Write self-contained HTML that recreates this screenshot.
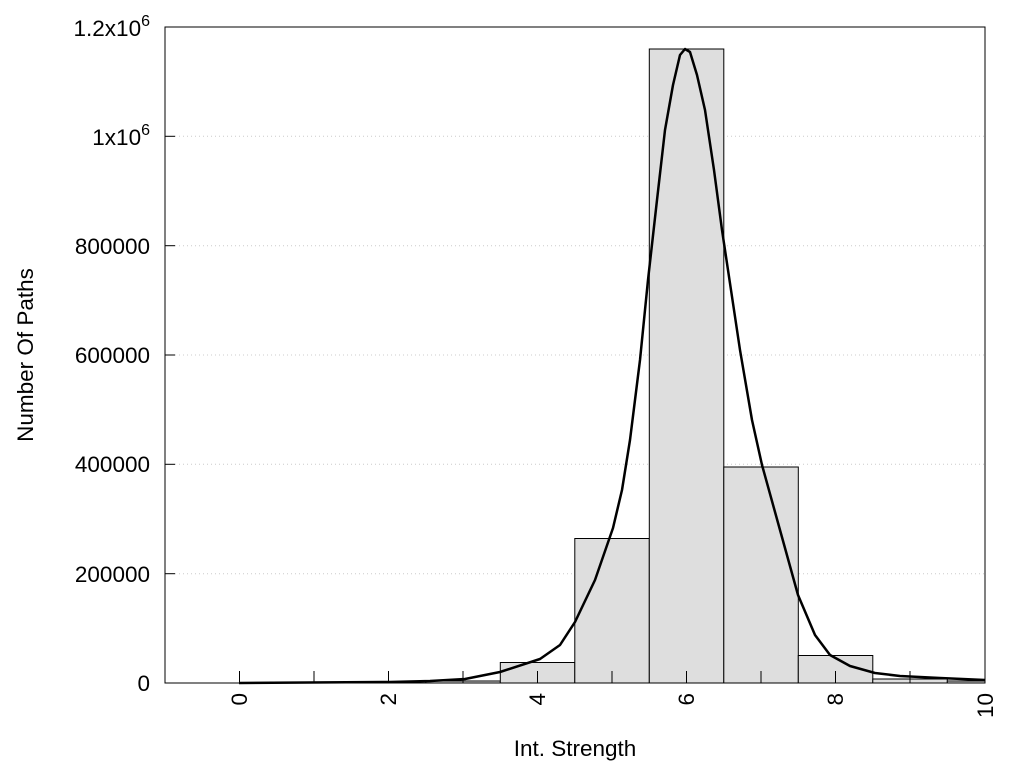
<!DOCTYPE html>
<html><head><style>body{margin:0;background:#fff}</style></head><body>
<svg width="1024" height="768" viewBox="0 0 1024 768" xmlns="http://www.w3.org/2000/svg" font-family="Liberation Sans, sans-serif">
<rect width="1024" height="768" fill="#fff"/>
<g stroke="#ccc" stroke-dasharray="1,3" stroke-width="1">
<line x1="175" x2="985" y1="573.7" y2="573.7"/>
<line x1="175" x2="985" y1="464.3" y2="464.3"/>
<line x1="175" x2="985" y1="355" y2="355"/>
<line x1="175" x2="985" y1="245.7" y2="245.7"/>
<line x1="175" x2="985" y1="136.3" y2="136.3"/>
</g>
<g fill="#dedede" stroke="#000" stroke-width="1">
<rect x="425.8" y="681" width="74.5" height="2"/>
<rect x="500.3" y="662.5" width="74.5" height="20.5"/>
<rect x="574.8" y="538.5" width="74.5" height="144.5"/>
<rect x="649.3" y="49" width="74.5" height="634"/>
<rect x="723.8" y="467" width="74.5" height="216"/>
<rect x="798.3" y="655.5" width="74.5" height="27.5"/>
<rect x="872.8" y="679" width="74.5" height="4"/>
<rect x="947.3" y="681" width="37.7" height="2"/>
</g>
<g stroke="#000" stroke-width="1">
<line x1="239.5" x2="239.5" y1="683" y2="671"/><line x1="314" x2="314" y1="683" y2="671"/>
<line x1="388.5" x2="388.5" y1="683" y2="671"/><line x1="463" x2="463" y1="683" y2="671"/>
<line x1="537.5" x2="537.5" y1="683" y2="671"/><line x1="612" x2="612" y1="683" y2="671"/>
<line x1="686.5" x2="686.5" y1="683" y2="671"/><line x1="761" x2="761" y1="683" y2="671"/>
<line x1="835.5" x2="835.5" y1="683" y2="671"/><line x1="910" x2="910" y1="683" y2="671"/>
<line x1="165" x2="175" y1="573.7" y2="573.7"/><line x1="165" x2="175" y1="464.3" y2="464.3"/>
<line x1="165" x2="175" y1="355" y2="355"/><line x1="165" x2="175" y1="245.7" y2="245.7"/>
<line x1="165" x2="175" y1="136.3" y2="136.3"/>
</g>
<polyline fill="none" stroke="#000" stroke-width="2.5" stroke-linejoin="round" points="239,683 390,682 430,681 465,679 500,672 540,659 560,645 575,622 595,580 613,528 622,490 630,440 640,360 648,280 657,200 665,130 673,85 680,55 685,49 690,52 697,75 705,110 714,170 722,230 731,290 740,350 752,420 762,465 780,530 798,595 815,635 830,655 850,666 875,673 900,676 940,678 985,680"/>
<rect x="165" y="27" width="820" height="656" fill="none" stroke="#000" stroke-width="1"/>
<g font-size="22.5" text-anchor="end" fill="#000">
<text x="150" y="691">0</text>
<text x="150" y="582">200000</text>
<text x="150" y="472">400000</text>
<text x="150" y="363">600000</text>
<text x="150" y="254">800000</text>
<text x="150" y="145">1x10<tspan font-size="16" dy="-10">6</tspan></text>
<text x="150" y="36">1.2x10<tspan font-size="16" dy="-10">6</tspan></text>
</g>
<g font-size="22.5" text-anchor="end" fill="#000">
<text transform="translate(247,693) rotate(-90)">0</text>
<text transform="translate(396,693) rotate(-90)">2</text>
<text transform="translate(545,693) rotate(-90)">4</text>
<text transform="translate(694,693) rotate(-90)">6</text>
<text transform="translate(843,693) rotate(-90)">8</text>
<text transform="translate(993,693) rotate(-90)">10</text>
</g>
<text x="575" y="756" font-size="22.5" text-anchor="middle">Int. Strength</text>
<text transform="translate(33,355) rotate(-90)" font-size="22.5" text-anchor="middle">Number Of Paths</text>
</svg>
</body></html>
